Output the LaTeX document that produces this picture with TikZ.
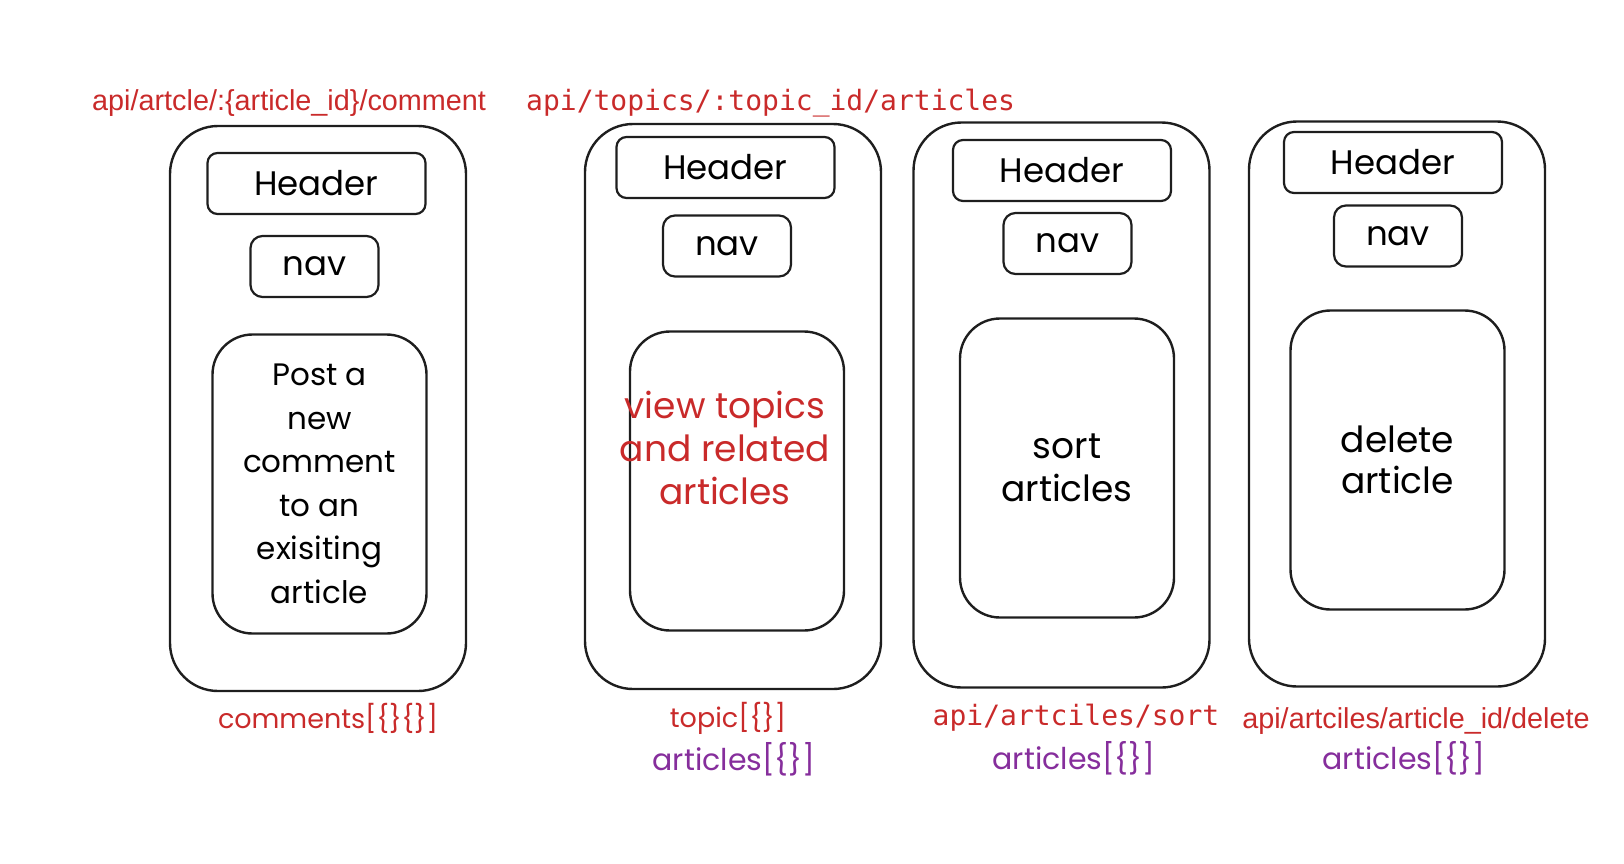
\documentclass[tikz,border=0pt]{standalone}
\usepackage{fontspec}
\setmainfont{Poppins}
\newfontfamily\urlsans{Liberation Sans}
\newfontfamily\urlmono{DejaVu Sans Mono}
\usetikzlibrary{positioning}
\definecolor{ink}{HTML}{1E1E1E}
\definecolor{inkred}{HTML}{C92A2A}
\definecolor{inkpurple}{HTML}{862E9C}
\tikzset{
  phone/.style={draw=ink, line width=2.4pt, rounded corners=48pt, minimum width=296pt, minimum height=565pt, inner sep=0pt},
  hdr/.style={draw=ink, line width=2.2pt, rounded corners=10pt, minimum width=218pt, minimum height=61pt, inner sep=0pt, font=\fontsize{34}{40}\selectfont},
  navbox/.style={draw=ink, line width=2.2pt, rounded corners=12pt, minimum width=128pt, minimum height=61pt, inner sep=0pt, font=\fontsize{34}{40}\selectfont},
  panel/.style={draw=ink, line width=2.4pt, rounded corners=40pt, minimum width=214pt, minimum height=299pt, inner sep=0pt, align=center, font=\fontsize{36}{42.5}\selectfont},
  route/.style={text=inkred, inner sep=0pt, font=\urlsans\fontsize{28.8}{34}\selectfont},
  routemono/.style={text=inkred, inner sep=0pt, font=\urlmono\fontsize{28}{34}\selectfont},
  data/.style={inner sep=0pt, font=\fontsize{27}{32}\selectfont},
  list/.style={data, text=inkpurple, font=\fontsize{30}{34}\selectfont}
}

\begin{document}
\begin{tikzpicture}[x=1pt, y=-1pt]
\useasboundingbox (0,0) rectangle (1624,863);
% urls on top
\node[route, anchor=west] (url1) at (92,103) {api/artcle/:\{article\_id\}/comment};
\node[routemono, anchor=west] (url2) at (526,103) {api/topics/:topic\_id/articles};

% comment page
\node[phone] (phone1) at (318,408.5) {};
\node[hdr] (head1) at (316.5,183.5) {Header};
\node[navbox] (nav1) at (314.5,266.5) {nav};
\node[panel, font=\fontsize{31}{43.5}\selectfont] (body1) at (319.5,484) {Post a\\new\\comment\\to an\\exisiting\\article};
\node[data, text=inkred] (data1) at (328,718) {comments[\{\}\{\}]};

% topic page
\node[phone] (phone2) at (733,406.5) {};
\node[hdr] (head2) at (725.5,167.5) {Header};
\node[navbox] (nav2) at (727,246) {nav};
\node[panel] (body2) at (737,481) {};
\node[align=center, text=inkred, font=\fontsize{36}{43}\selectfont] (text2) at (725,448) {view topics\\and related\\articles};
\node[data, text=inkred] (data2) at (728,718) {topic[\{\}]};
\node[list] (data2b) at (734,759) {articles[\{\}]};

% sort page
\node[phone] (phone3) at (1061.5,405) {};
\node[hdr] (head3) at (1062,170.5) {Header};
\node[navbox] (nav3) at (1067.5,243.5) {nav};
\node[panel] (body3) at (1067,468) {sort\\articles};
\node[routemono] (url3) at (1076,718) {api/artciles/sort};
\node[list] (data3) at (1074,758) {articles[\{\}]};

% delete page
\node[phone] (phone4) at (1397,404) {};
\node[hdr] (head4) at (1393,162.5) {Header};
\node[navbox] (nav4) at (1398,236) {nav};
\node[panel, font=\fontsize{36}{41.5}\selectfont] (body4) at (1397.5,460) {delete\\article};
\node[route] (url4) at (1416,721) {api/artciles/article\_id/delete};
\node[list] (data4) at (1404,758) {articles[\{\}]};
\end{tikzpicture}
\end{document}
